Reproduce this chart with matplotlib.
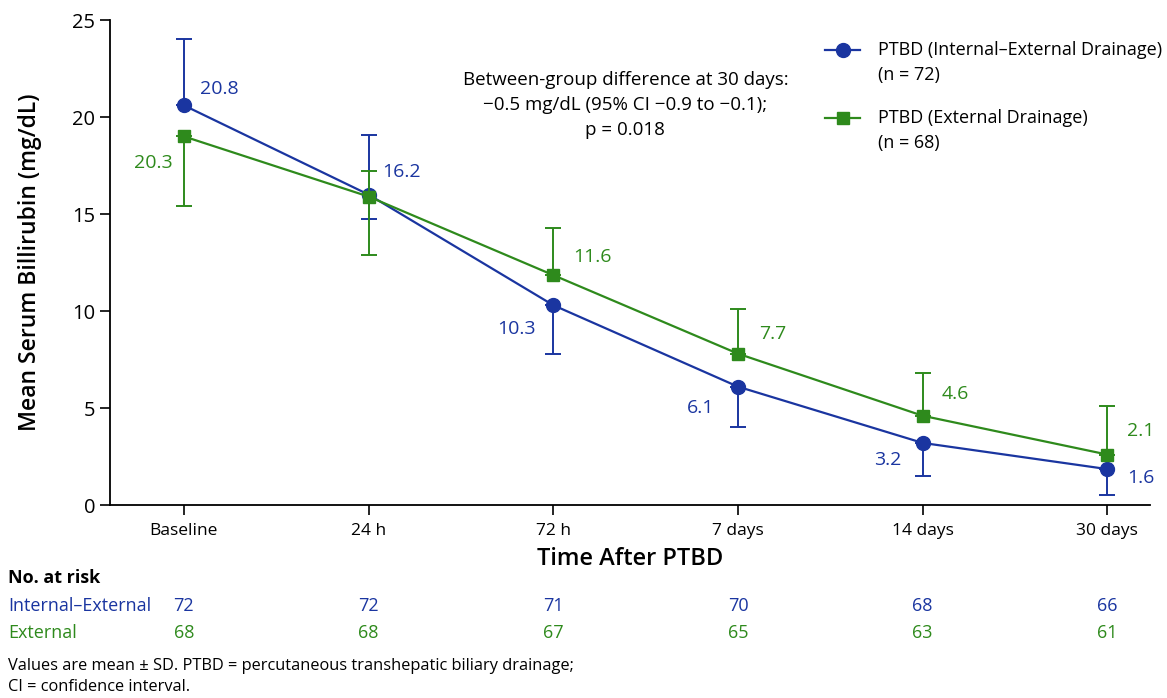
import matplotlib.pyplot as plt
from matplotlib.transforms import blended_transform_factory

plt.rcParams['font.family'] = ['Open Sans', 'DejaVu Sans']

timepoints = ['Baseline', '24 h', '72 h', '7 days', '14 days', '30 days']

# means as plotted, with lower / upper whisker ends
# (whiskers hidden behind the other group are drawn one-sided)
ie_mean = [20.6, 16.0, 10.3, 6.1, 3.2, 1.85]
ie_low = [20.6, 14.75, 7.8, 4.0, 1.5, 0.5]
ie_high = [24.0, 19.05, 10.3, 6.1, 3.2, 1.85]
ie_labels = ['20.8', '16.2', '10.3', '6.1', '3.2', '1.6']

ex_mean = [19.0, 15.9, 11.85, 7.8, 4.6, 2.6]
ex_low = [15.4, 12.9, 11.85, 7.8, 4.6, 2.6]
ex_high = [19.0, 17.2, 14.3, 10.1, 6.8, 5.1]
ex_labels = ['20.3', '', '11.6', '7.7', '4.6', '2.1']

ie_at_risk = [72, 72, 71, 70, 68, 66]
ex_at_risk = [68, 68, 67, 65, 63, 61]

BLUE = '#1a35a0'
GREEN = '#2e8a1c'

fig = plt.figure(figsize=(11.67, 6.98), dpi=100)
ax = fig.add_axes([0.0943, 0.2765, 0.891, 0.6948])

x = list(range(len(timepoints)))


def plot_group(mean, low, high, color, marker, ms, z):
    yerr = [[m - l for m, l in zip(mean, low)], [h - m for m, h in zip(mean, high)]]
    ax.errorbar(x, mean, yerr=yerr, color=color, marker=marker, ms=ms,
                lw=1.6, elinewidth=1.4, capsize=6, capthick=1.4, zorder=z)


plot_group(ie_mean, ie_low, ie_high, BLUE, 'o', 10, 3)
plot_group(ex_mean, ex_low, ex_high, GREEN, 's', 8.5, 4)

# value labels (offsets in points)
ie_off = [(11.5, 12), (10, 16), (-13, -17), (-17, -15), (-15, -12), (14, -6.5)]
ex_off = [(-8, -19), (0, 0), (14, 13), (15, 14), (14, 16), (14, 17)]
for i in x:
    dx, dy = ie_off[i]
    ax.annotate(ie_labels[i], (i, ie_mean[i]), xytext=(dx, dy), textcoords='offset points',
                color=BLUE, fontsize=14, ha='left' if dx > 0 else 'right', va='center')
    if ex_labels[i]:
        dx, dy = ex_off[i]
        ax.annotate(ex_labels[i], (i, ex_mean[i]), xytext=(dx, dy), textcoords='offset points',
                    color=GREEN, fontsize=14, ha='left' if dx > 0 else 'right', va='center')

ax.set_xlim(-0.40, 5.23)
ax.set_ylim(0, 25)
ax.set_yticks([0, 5, 10, 15, 20, 25])
ax.set_xticks(x)
ax.set_xticklabels(timepoints)
ax.tick_params(axis='y', labelsize=14.5, length=7, width=1.2)
ax.tick_params(axis='x', labelsize=12.5, length=7, width=1.2, pad=6)
for s in ['top', 'right']:
    ax.spines[s].set_visible(False)
for s in ['left', 'bottom']:
    ax.spines[s].set_linewidth(1.3)

ax.set_ylabel('Mean Serum Billirubin (mg/dL)', fontsize=16.5, fontweight='semibold', labelpad=22)
ax.set_xlabel('Time After PTBD', fontsize=17, fontweight='semibold', labelpad=6)

ax.text(2.39, 20.6, 'Between-group difference at 30 days:\n'
        '\u22120.5 mg/dL (95% CI \u22120.9 to \u22120.1);\np = 0.018',
        ha='center', va='center', fontsize=13.5, linespacing=1.5)

# legend drawn by hand so the key sits on the first text line
legend_rows = [('PTBD (Internal–External Drainage)', '(n = 72)', BLUE, 'o', 10, 0.928),
               ('PTBD (External Drainage)', '(n = 68)', GREEN, 's', 8.5, 0.831)]
for name, n_text, color, marker, ms, fy in legend_rows:
    fig.add_artist(plt.Line2D([0.707, 0.737], [fy, fy], color=color, lw=1.6,
                              transform=fig.transFigure))
    fig.add_artist(plt.Line2D([0.722], [fy], color=color, marker=marker, ms=ms,
                              transform=fig.transFigure))
    fig.text(0.752, fy, name, fontsize=13, va='center')
    fig.text(0.752, fy - 0.036, n_text, fontsize=13, va='center')

# number at risk table
tr = blended_transform_factory(ax.transData, fig.transFigure)
fig.text(0.007, 0.172, 'No. at risk', fontsize=13, fontweight='bold', va='center')
fig.text(0.007, 0.132, 'Internal–External', fontsize=13, color=BLUE, va='center')
fig.text(0.007, 0.093, 'External', fontsize=13, color=GREEN, va='center')
for i in x:
    ax.text(i, 0.132, str(ie_at_risk[i]), transform=tr, fontsize=13, color=BLUE,
            ha='center', va='center')
    ax.text(i, 0.093, str(ex_at_risk[i]), transform=tr, fontsize=13, color=GREEN,
            ha='center', va='center')

fig.text(0.007, 0.031, 'Values are mean \u00b1 SD. PTBD = percutaneous transhepatic biliary drainage;\n'
         'CI = confidence interval.', fontsize=11.8, va='center', linespacing=1.4)

fig.savefig('out.png', dpi=100, facecolor='white')
